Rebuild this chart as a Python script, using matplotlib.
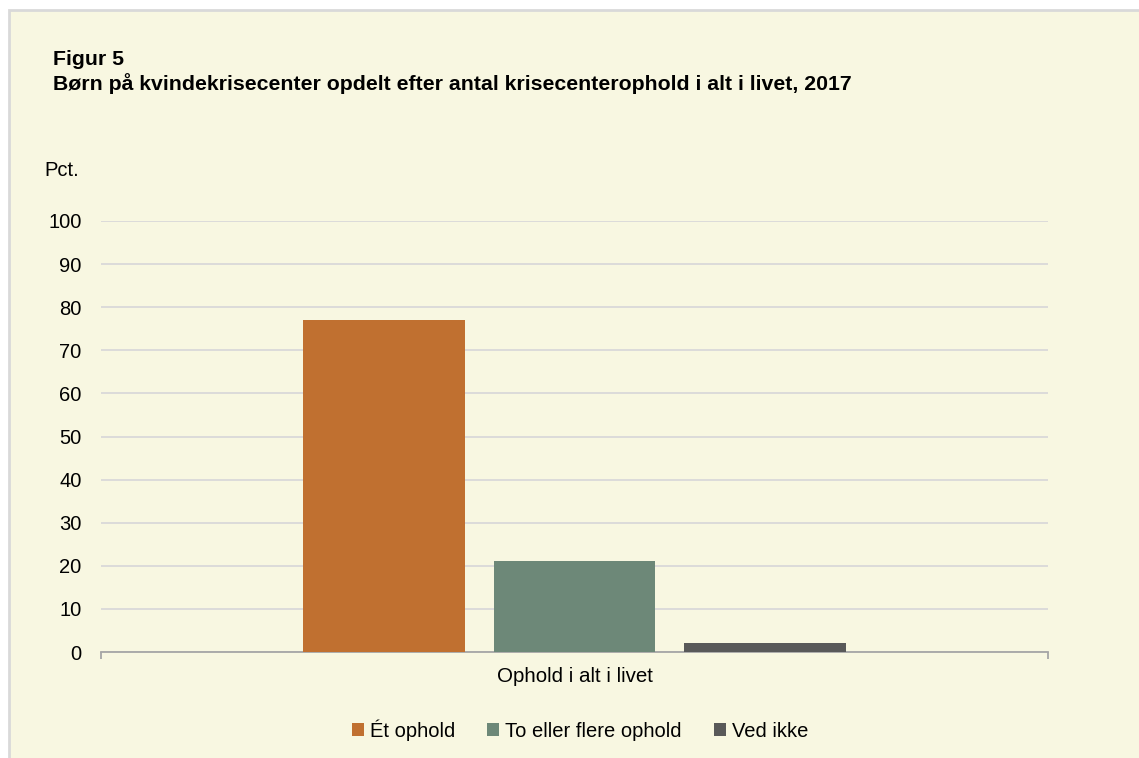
import matplotlib.pyplot as plt
from matplotlib.patches import Rectangle

# Data
categories = ['Ophold i alt i livet']
series = ['Ét ophold', 'To eller flere ophold', 'Ved ikke']
values = [77, 21, 2]
colors = ['#C07030', '#6D8878', '#595959']

plt.rcParams['font.family'] = ['Liberation Sans', 'DejaVu Sans']

bg = '#F8F7E1'
fig = plt.figure(figsize=(11.39, 7.58), dpi=100)
fig.patch.set_facecolor('white')

# cream panel with a light grey frame (top + left)
W, H = 1139, 758
fig.patches.append(Rectangle((9 / W, -0.01), 1.02, 1 - 10 / H + 0.01, transform=fig.transFigure,
                             facecolor=bg, edgecolor='#D9D9D9', linewidth=2, zorder=-5))

ax = fig.add_axes([101 / W, 1 - 652 / H, (1048 - 101) / W, (652 - 221) / H])
ax.set_zorder(2)
ax.set_facecolor(bg)

width = 0.171
step = 0.2012
for i, (name, v, c) in enumerate(zip(series, values, colors)):
    ax.bar(0 + (i - 1) * step, v, width=width, color=c, label=name, zorder=3)

ax.set_xlim(-0.5, 0.5)
ax.set_ylim(0, 100)
ax.set_yticks(range(0, 101, 10))
ax.grid(axis='y', color='#D9D9D9', linewidth=1.3, zorder=0)
ax.tick_params(axis='y', length=0, pad=14, labelsize=14.5, labelcolor='black')

ax.set_xticks([0])
ax.set_xticklabels(categories)
ax.set_xticks([-0.5, 0.5], minor=True)
ax.tick_params(axis='x', which='major', length=0, pad=11, labelsize=14.8)
ax.tick_params(axis='x', which='minor', length=5, width=1.3, color='#A6A6A6')

for s in ['top', 'right', 'left']:
    ax.spines[s].set_visible(False)
ax.spines['bottom'].set_color('#A6A6A6')
ax.spines['bottom'].set_linewidth(1.3)

fig.text(53 / W, 1 - 65 / H, 'Figur 5', fontsize=15.3, fontweight='bold', va='baseline')
fig.text(53 / W, 1 - 90 / H, 'Børn på kvindekrisecenter opdelt efter antal krisecenterophold i alt i livet, 2017',
         fontsize=15.3, fontweight='bold', va='baseline')
fig.text(44 / W, 1 - 176 / H, 'Pct.', fontsize=14.5, va='baseline')

fig.legend(loc='center', bbox_to_anchor=(580 / W, 1 - 730 / H), ncol=3, frameon=False,
           fontsize=14.5, handlelength=0.6, handleheight=0.6, handletextpad=0.3, columnspacing=1.6)

fig.savefig('out.png', dpi=100, facecolor=fig.get_facecolor())
